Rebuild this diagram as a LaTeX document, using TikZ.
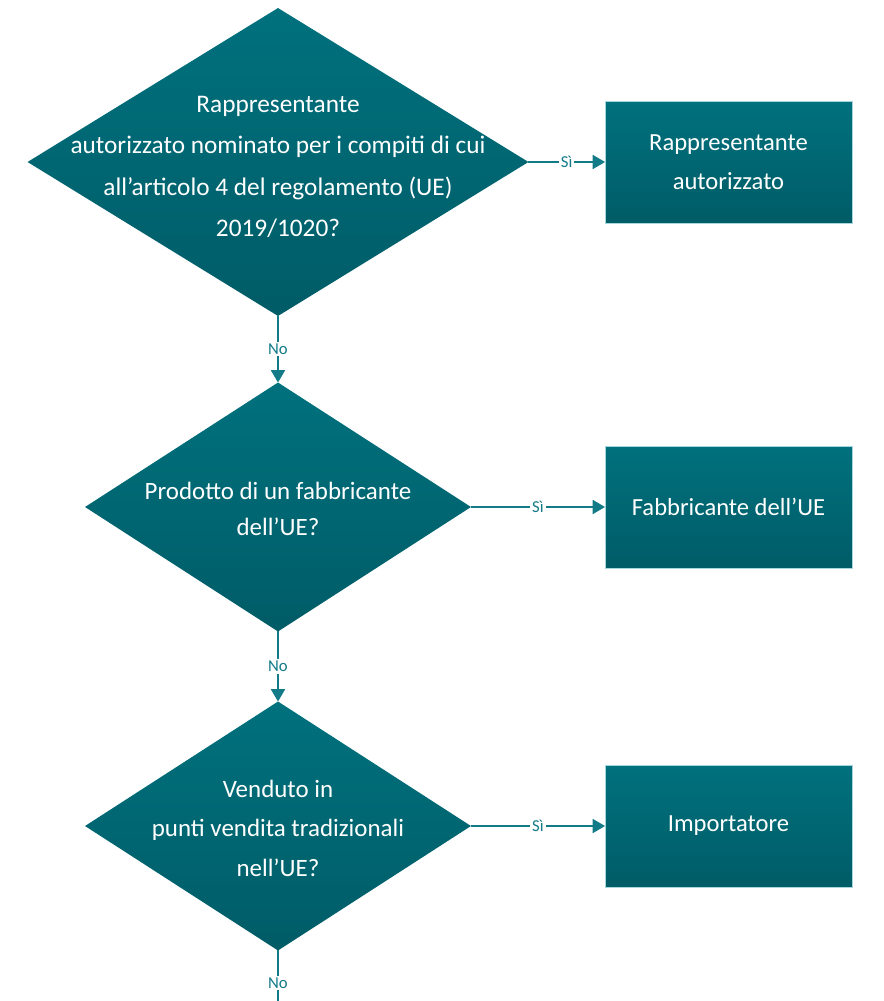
\documentclass[tikz,border=0pt]{standalone}
\usepackage{fontspec}
\setmainfont{Carlito}
\usetikzlibrary{shapes.geometric,arrows.meta}

\definecolor{tealtop}{HTML}{00717D}
\definecolor{tealbot}{HTML}{005C67}
\definecolor{tealline}{HTML}{137B88}
\definecolor{tealedge}{HTML}{A7D7DD}

\tikzset{
  decision/.style={diamond, inner sep=0pt, outer sep=0pt, draw=none,
    top color=tealtop, bottom color=tealbot},
  outcome/.style={rectangle, inner sep=0pt, outer sep=0pt, draw=tealedge, line width=0.4pt,
    top color=tealtop, bottom color=tealbot, minimum width=4.94cm, minimum height=2.44cm,
    text=white, align=center, font=\fontsize{14}{22}\selectfont},
  qtext/.style={text=white, align=center},
  link/.style={draw=tealline, line width=0.8pt, -{Triangle[length=7pt,width=8pt]}},
  tag/.style={fill=white, text=tealline, inner sep=1pt, font=\fontsize{9.5}{10}\selectfont}
}

\begin{document}
\begin{tikzpicture}[x=0.02cm, y=-0.02cm]
  % page frame
  \useasboundingbox (0,0) rectangle (884,1001);

  % the three questions
  \node[decision, minimum width=10.02cm, minimum height=6.16cm] (q1) at (278,162) {};
  \node[qtext, font=\fontsize{14.4}{23.5}\selectfont] (t1) at (278,167)
    {Rappresentante\\autorizzato nominato per i compiti di cui\\all’articolo 4 del regolamento (UE)\\2019/1020?};
  \node[decision, minimum width=7.72cm, minimum height=4.98cm] (q2) at (278,507) {};
  \node[qtext, font=\fontsize{14.2}{20.5}\selectfont] (t2) at (278,509)
    {Prodotto di un fabbricante\\dell’UE?};
  \node[decision, minimum width=7.72cm, minimum height=4.98cm] (q3) at (278,826) {};
  \node[qtext, font=\fontsize{14.2}{22.5}\selectfont] (t3) at (278,828)
    {Venduto in\\punti vendita tradizionali\\nell’UE?};

  % the answers
  \node[outcome] (a1) at (728.5,162) {Rappresentante\\autorizzato};
  \node[outcome] (a2) at (728.5,507) {Fabbricante dell’UE};
  \node[outcome] (a3) at (728.5,826) {Importatore};
  \coordinate (out) at (278,1001);

  % yes branches
  \draw[link] (q1.east) -- node[tag, pos=0.5] {Sì} (a1.west);
  \draw[link] (q2.east) -- node[tag, pos=0.5] {Sì} (a2.west);
  \draw[link] (q3.east) -- node[tag, pos=0.5] {Sì} (a3.west);

  % no branches
  \draw[link] (q1.south) -- node[tag, pos=0.5] {No} (q2.north);
  \draw[link] (q2.south) -- node[tag, pos=0.5] {No} (q3.north);
  \draw[draw=tealline, line width=0.8pt] (q3.south) -- node[tag, pos=0.64] {No} (out);
\end{tikzpicture}
\end{document}
